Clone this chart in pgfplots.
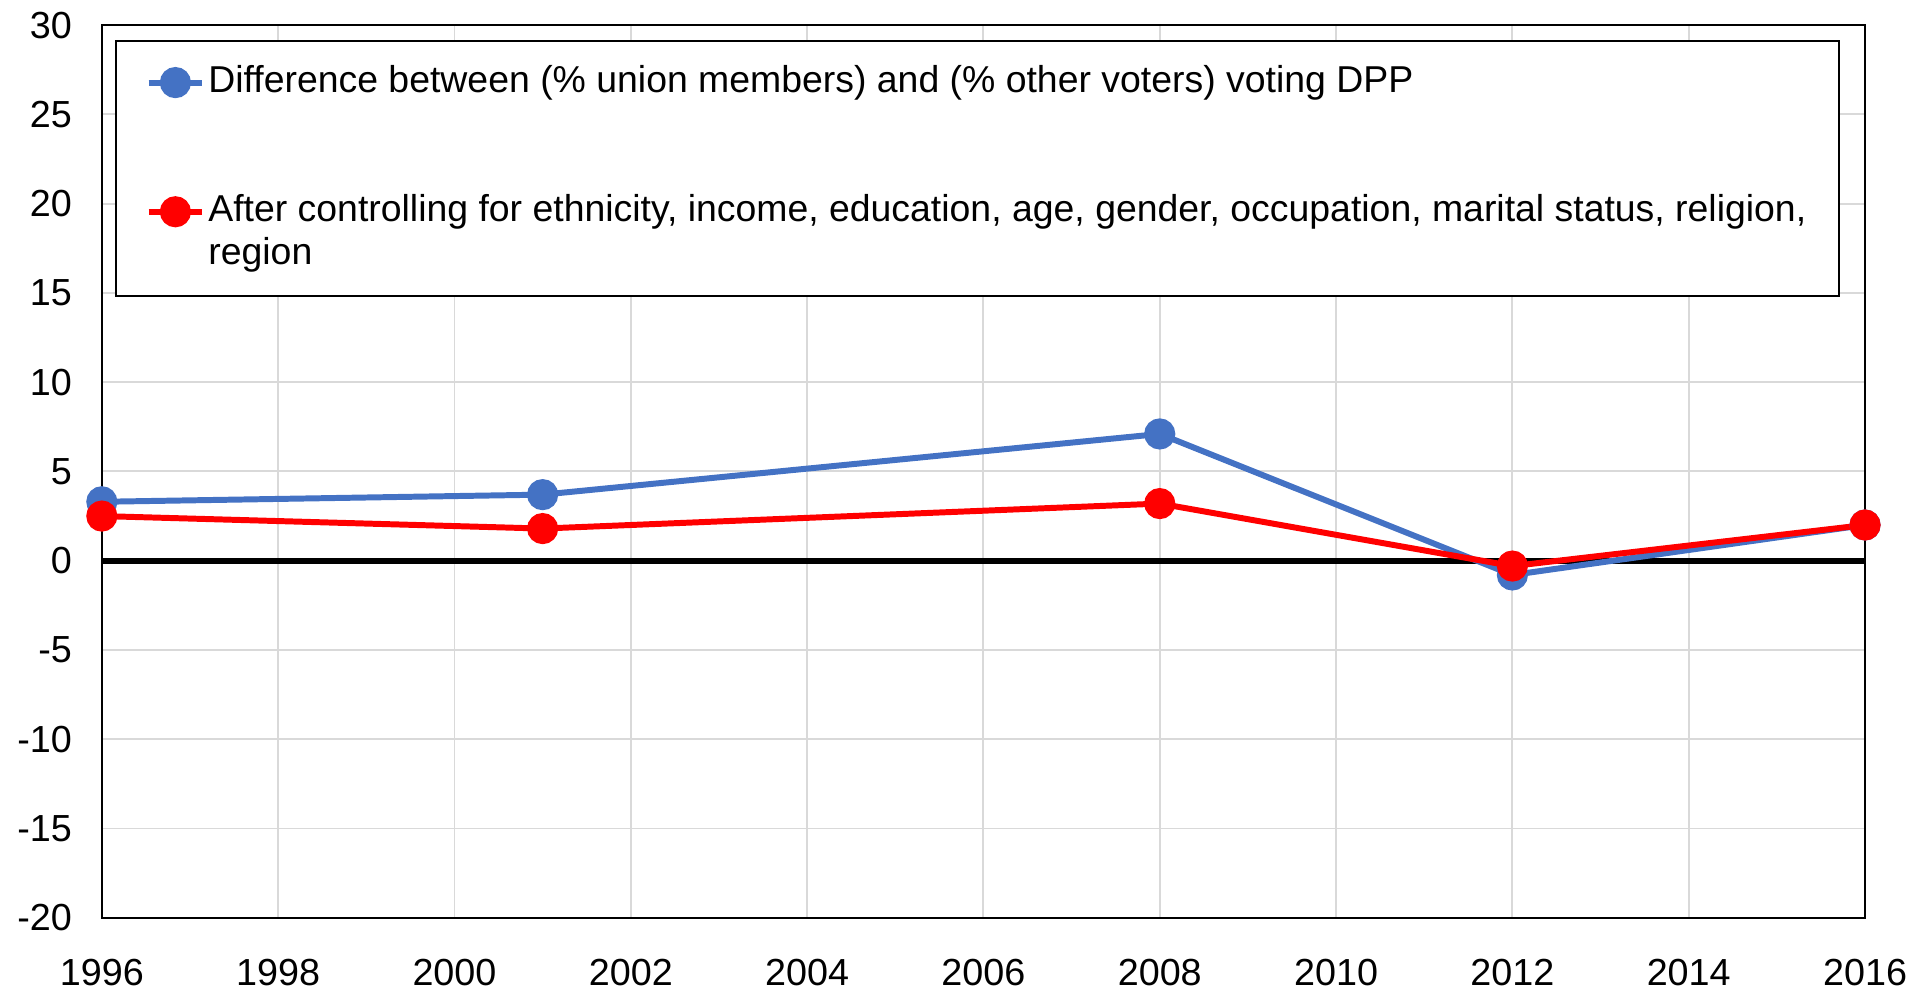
\documentclass[border=0pt]{standalone}
\usepackage{fontspec}
\setmainfont{Liberation Sans}
\usepackage{pgfplots}
\pgfplotsset{compat=1.18}
\definecolor{serblue}{HTML}{4472C4}
\definecolor{serred}{HTML}{FF0000}
\definecolor{gridgray}{HTML}{D9D9D9}
\begin{document}
\begin{tikzpicture}
\begin{axis}[
    scale only axis,
    width=561pt, height=284pt,
    xmin=1996, xmax=2016,
    ymin=-20, ymax=30,
    xtick={1996,1998,...,2016},
    ytick={-20,-15,...,30},
    grid=major,
    major grid style={gridgray, line width=0.6pt},
    major tick length=0pt,
    axis line style={black, line width=0.65pt},
    /pgf/number format/assume math mode=true,
    /pgf/number format/set thousands separator={},
    tick label style={font=\fontsize{12}{14}\selectfont},
    xticklabel style={yshift=-9.5pt},
    yticklabel style={xshift=-6pt},
    legend cell align=left,
    legend style={
        at={(axis description cs:0,1)}, anchor=north west,
        xshift=4.1pt, yshift=-4.8pt,
        draw=black, line width=0.65pt,
        font=\fontsize{11.9}{14}\selectfont,
        inner xsep=9.5pt, inner ysep=6.3pt,
        row sep=0pt,
        nodes={inner ysep=1.35pt, inner xsep=1pt, text height=8.5pt, text depth=2.5pt},
    },
]
\coordinate (bl) at (rel axis cs:0,0);
\coordinate (tr) at (rel axis cs:1,1);
\draw[black, line width=1.9pt] (axis cs:1996,0) -- (axis cs:2016,0);

\addplot[serblue, line width=1.9pt, mark=*, mark size=4pt] coordinates {
    (1996,3.3) (2001,3.7) (2008,7.1) (2012,-0.8) (2016,2.0)
};
\addlegendentry{Difference between (\% union members) and (\% other voters) voting DPP}
\addlegendimage{empty legend}\addlegendentry{}
\addlegendimage{empty legend}\addlegendentry{}

\addplot[serred, line width=1.9pt, mark=*, mark size=4pt] coordinates {
    (1996,2.5) (2001,1.8) (2008,3.2) (2012,-0.3) (2016,2.0)
};
\addlegendentry{After controlling for ethnicity, income, education, age, gender, occupation, marital status, religion,}
\addlegendimage{empty legend}\addlegendentry{region}
\end{axis}
\pgfresetboundingbox
\path ([shift={(-32.4pt,-23.5pt)}]bl) rectangle ([shift={(19.4pt,8pt)}]tr);
\end{tikzpicture}
\end{document}
